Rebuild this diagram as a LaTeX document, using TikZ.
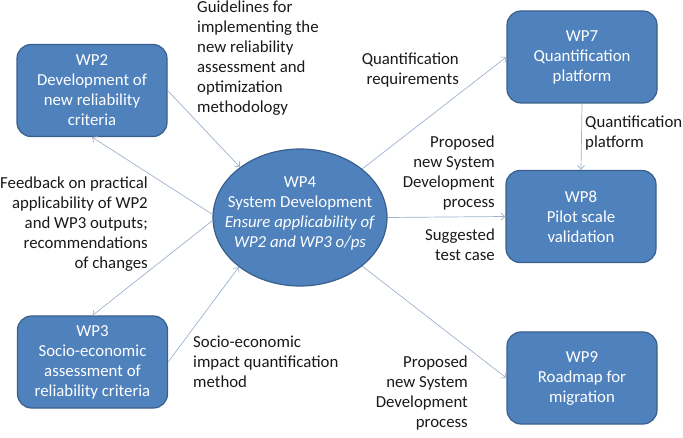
\documentclass[tikz,border=0pt]{standalone}
\usepackage{fontspec}
\setmainfont{Carlito}
\usetikzlibrary{arrows.meta,shapes.geometric}
\definecolor{boxfill}{HTML}{4F81BD}
\definecolor{boxline}{HTML}{3A5F8C}
\definecolor{conn}{RGB}{158,178,205}
\tikzset{
  wpbox/.style={draw=boxline, line width=1.2pt, fill=boxfill, rounded corners=14pt,
    minimum width=150pt, minimum height=92pt, align=center, text=white,
    font=\fontsize{16.8}{20}\selectfont, inner sep=0pt},
  wpell/.style={draw=boxline, line width=1.2pt, fill=boxfill, ellipse,
    minimum width=174pt, minimum height=137pt, inner sep=0pt},
  elltext/.style={align=center, text=white, font=\fontsize{16.8}{20}\selectfont, inner sep=0pt},
  lbl/.style={font=\fontsize{16.8}{20}\selectfont, text=black!90, inner sep=0pt},
  conn/.style={draw=conn, line width=0.7pt, -{Straight Barb[length=4pt,width=7pt]}},
}
\begin{document}
\begin{tikzpicture}[x=1pt,y=-1pt]
\useasboundingbox (0,0) rectangle (683,438);
\node[wpbox] (wp2) at (92,90.5) {WP2\\Development of\\new reliability\\criteria};
\node[wpbox] (wp3) at (92.5,362) {WP3\\Socio-economic\\assessment of\\reliability criteria};
\node[wpbox] (wp7) at (582,57) {WP7\\Quantification\\platform};
\node[wpbox] (wp8) at (581,216.5) {WP8\\Pilot scale\\validation};
\node[wpbox] (wp9) at (582,378) {WP9\\Roadmap for\\migration};
\node[wpell] (wp4) at (300,217.5) {};
\node[elltext] (wp4t) at (300,213) {WP4\\System Development\\\textit{Ensure applicability of}\\\textit{WP2 and WP3 o/ps}};

\node[lbl, anchor=west, align=left] (l1) at (197,58.5) {Guidelines for\\implementing the\\new reliability\\assessment and\\optimization\\methodology};
\node[lbl, anchor=east, align=right] (l2) at (148,224) {Feedback on practical\\applicability of WP2\\and WP3 outputs;\\recommendations\\of changes};
\node[lbl, anchor=west, align=left] (l3) at (193,362) {Socio-economic\\impact quantification\\method};
\node[lbl, anchor=east, align=right] (l4) at (459,70) {Quantification\\requirements};
\node[lbl, anchor=west, align=left] (l5) at (585,133) {Quantification\\platform};
\node[lbl, anchor=east, align=right] (l6) at (495,173) {Proposed\\new System\\Development\\process};
\node[lbl, anchor=east, align=right] (l7) at (495,245) {Suggested\\test case};
\node[lbl, anchor=east, align=right] (l8) at (468,393) {Proposed\\new System\\Development\\process};

\draw[conn] (wp2.east) -- (wp4.140);
\draw[conn] (wp4.178) -- (wp2.south);
\draw[conn] (wp4.182) -- (wp3.north);
\draw[conn] (wp3.east) -- (wp4.219);
\draw[conn] (wp4.38) -- (wp7.west);
\draw[conn] (wp7.south) -- (wp8.north);
\draw[conn] (wp4.east) -- (wp8.west);
\draw[conn] (wp4.-38) -- (wp9.west);
\end{tikzpicture}
\end{document}
